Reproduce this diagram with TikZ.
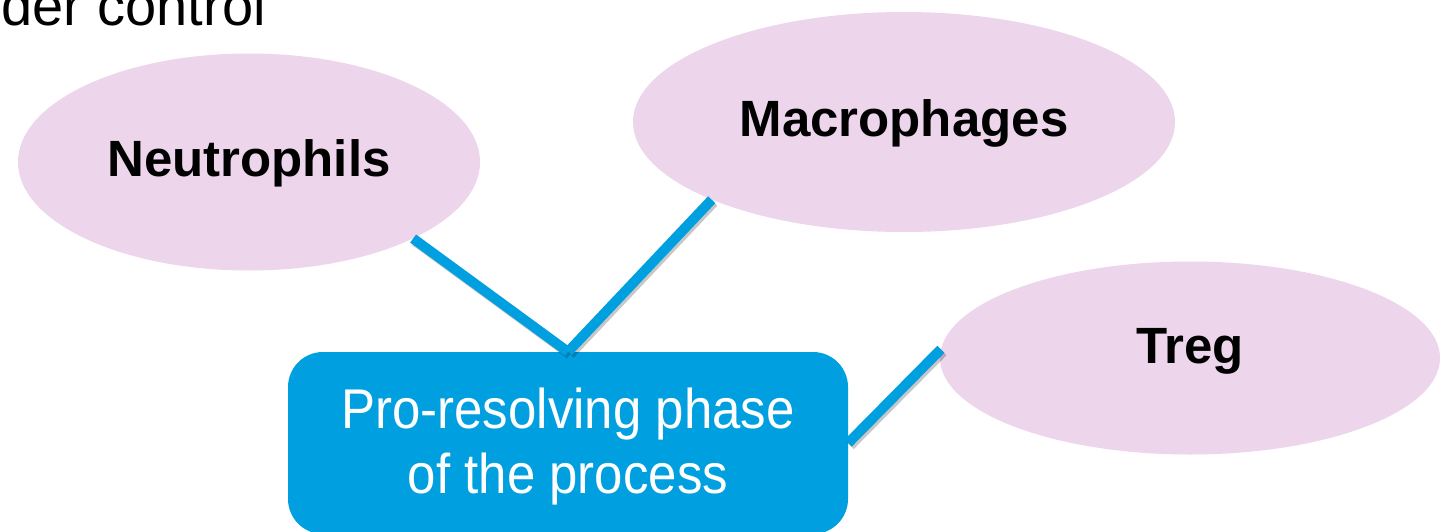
\documentclass[tikz,border=0pt]{standalone}
\usepackage{fontspec}
\setmainfont{Liberation Sans}
\newfontfamily\boxfont[FakeStretch=0.91]{Liberation Sans}
\usetikzlibrary{shapes.geometric}
\definecolor{boxblue}{RGB}{0,159,223}
\definecolor{cellpink}{RGB}{237,213,236}
\tikzset{
  cell/.style={ellipse, fill=cellpink, draw=none, inner sep=0pt,
    font=\fontsize{51}{60}\selectfont\bfseries, text=black,
    text height=37pt, text depth=7.4pt},
  phasebox/.style={rectangle, rounded corners=35pt, fill=boxblue, draw=none,
    minimum width=560pt, minimum height=182pt, inner sep=0pt,
    font=\boxfont\fontsize{56}{65}\selectfont, text=white, align=center,
    text height=105pt, text depth=5pt},
  conn/.style={line width=10pt, draw=boxblue, line cap=butt},
  connshadow/.style={line width=10pt, draw=black, opacity=0.22, line cap=butt,
    transform canvas={shift={(2pt,-2.5pt)}}},
  titletext/.style={inner sep=0pt, font=\fontsize{56}{65}\selectfont, text=black}
}
\begin{document}
\begin{tikzpicture}[x=1pt,y=-1pt]
\useasboundingbox (0,0) rectangle (1447,532);
\fill[white] (0,0) rectangle (1447,532);

\node[titletext, anchor=base east] (title) at (266,26) {der control};

\node[cell, minimum width=462pt, minimum height=217pt] (neu) at (249,162) {Neutrophils};
\node[cell, minimum width=542pt, minimum height=220pt] (mac) at (904,122) {Macrophages};
\node[cell, minimum width=500pt, minimum height=193pt, text depth=25.4pt] (treg) at (1190,358) {Treg};

\node[phasebox] (phase) at (568,443) {Pro-resolving phase\\of the process};

\draw[connshadow] (neu.-25.6) -- (phase.north);
\draw[connshadow] (mac.202.2) -- (phase.north);
\draw[connshadow] (phase.east) -- (treg.178);
\draw[conn] (neu.-25.6) -- (phase.north);
\draw[conn] (mac.202.2) -- (phase.north);
\draw[conn] (phase.east) -- (treg.178);
\end{tikzpicture}
\end{document}
